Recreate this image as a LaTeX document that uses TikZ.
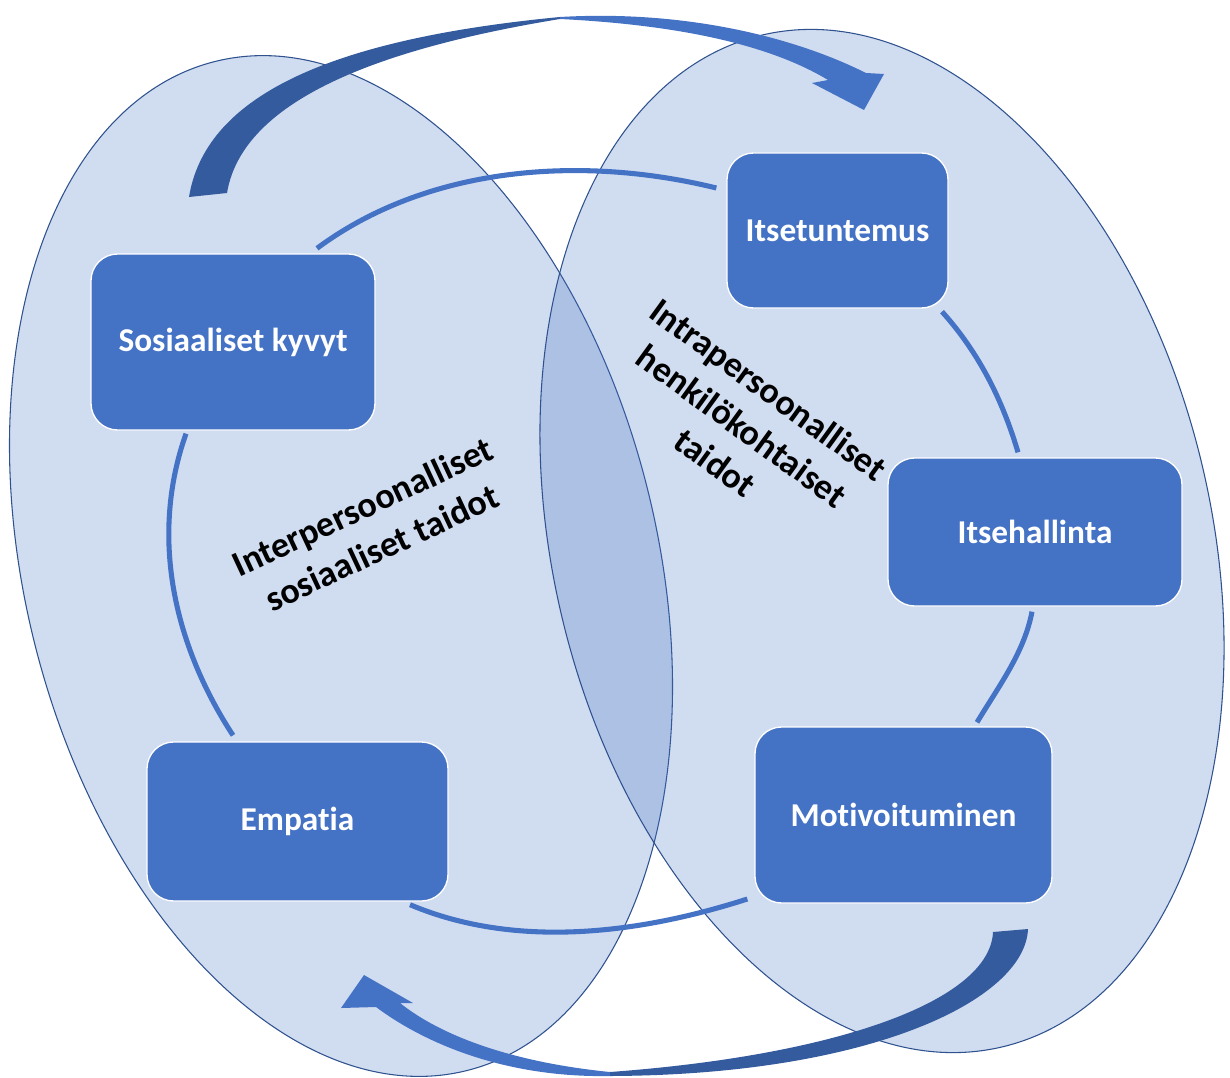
\documentclass[tikz,border=0pt]{standalone}
\usepackage{fontspec}
\setmainfont{Carlito}[Ligatures={NoCommon}]
\usetikzlibrary{calc}
\definecolor{boxblue}{HTML}{4472C4}
\definecolor{ellline}{HTML}{2F528F}
\definecolor{darkarrow}{HTML}{345B9D}
\tikzset{
  ellstyle/.style={fill=boxblue, fill opacity=0.25, draw=ellline, draw opacity=1, line width=0.8pt},
  box/.style={draw=white, line width=1pt, fill=boxblue, rounded corners=20pt, text=white,
    font=\bfseries\fontsize{25}{29}\selectfont, inner sep=0pt},
  conn/.style={draw=boxblue, line width=3.8pt},
  lbl/.style={font=\bfseries\fontsize{27}{34}\selectfont, align=center, text=black, inner sep=0pt},
  lightarrow/.style={fill=boxblue},
  deeparrow/.style={fill=darkarrow}
}
\begin{document}
\begin{tikzpicture}[x=0.75pt,y=0.75pt]
\useasboundingbox (0,0) rectangle (1230,-1077);
% ellipses
\draw[ellstyle, rotate around={14:(341,-566)}] (341,-566) ellipse [x radius=316, y radius=520];
\draw[ellstyle, rotate around={13.4:(882,-541)}] (882,-541) ellipse [x radius=329, y radius=520];

% top arrow
\fill[deeparrow] (189,-197) .. controls (205,-100) and (320,-40) .. (560,-17) -- (560,-19)
  .. controls (340,-55) and (240,-115) .. (227,-193) -- cycle;
\fill[lightarrow] (560,-17) .. controls (680,-10) and (790,-35) .. (866,-73) -- (884,-74) -- (864,-110)
  -- (812,-83) -- (828,-80) .. controls (770,-45) and (680,-25) .. (560,-19) -- cycle;
% bottom arrow
\fill[deeparrow] (1028,-929) .. controls (1025,-1000) and (870,-1075) .. (610,-1076) -- (610,-1072)
  .. controls (840,-1055) and (990,-1000) .. (993,-932) -- cycle;
\fill[lightarrow] (610,-1076) .. controls (500,-1078) and (420,-1040) .. (376,-1007) -- (341,-1008)
  -- (364,-975) -- (413,-1003) -- (400,-1003) .. controls (440,-1035) and (510,-1062) .. (610,-1072) -- cycle;

% boxes
\node[box, minimum width=213pt, minimum height=132pt] (sos) at (233,-342) {Sosiaaliset kyvyt};
\node[box, minimum width=165.75pt, minimum height=116.25pt] (its) at (837.5,-230.5) {Itsetuntemus};
\node[box, minimum width=220.5pt, minimum height=111pt] (ith) at (1035,-532) {Itsehallinta};
\node[box, minimum width=222.75pt, minimum height=132pt] (mot) at (903.5,-815) {Motivoituminen};
\node[box, minimum width=225.75pt, minimum height=119.25pt] (emp) at (297.5,-821.5) {Empatia};

% connectors
\draw[conn] ($(sos.north)+(84,5)$) to[out=36.6, in=166.2, out distance=101.9pt, in distance=106.6pt] ($(its.west)+(-10,42.5)$);
\draw[conn] ($(sos.south)+(-47,-3)$) to[out=-109.5, in=123.1, out distance=80.9pt, in distance=82.7pt] ($(emp.north)+(-64.5,6)$);
\draw[conn] ($(emp.south)+(112.5,-3)$) to[out=-22.9, in=197.8, out distance=85.5pt, in distance=86.2pt] ($(mot.west)+(-7,-84)$);
\draw[conn] ($(its.south)+(104.5,-3)$) to[out=-48, in=106.5, out distance=41.9pt, in distance=40.2pt] ($(ith.north)+(-17,5)$);
\draw[conn] ($(ith.south)+(-3,-5)$) to[out=-100.7, in=59, out distance=31.1pt, in distance=31.9pt] ($(mot.north)+(73.5,4)$);

% labels
\node[lbl, rotate=25] (inter) at (372,-527) {Interpersoonalliset\\sosiaaliset taidot};
\node[lbl, rotate=-36] (intra) at (742,-426) {Intrapersoonalliset\\henkilökohtaiset\\taidot};
\end{tikzpicture}
\end{document}
